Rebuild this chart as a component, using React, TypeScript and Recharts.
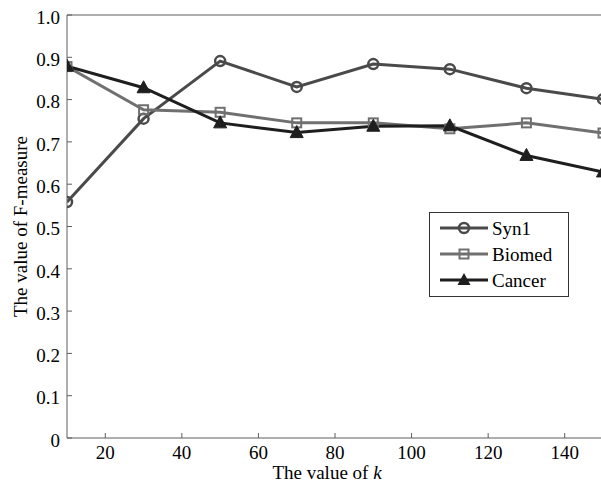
import React from "react";
import { LineChart, Line, XAxis, YAxis, Legend } from "recharts";

const kValues = [10, 30, 50, 70, 90, 110, 130, 150];
const syn1 = [0.558, 0.755, 0.891, 0.83, 0.884, 0.872, 0.827, 0.801];
const biomed = [0.878, 0.776, 0.77, 0.745, 0.745, 0.731, 0.745, 0.721];
const cancer = [0.879, 0.828, 0.745, 0.722, 0.737, 0.738, 0.668, 0.629];
const seriesNames = ["Syn1", "Biomed", "Cancer"];

const xTicks = [20, 40, 60, 80, 100, 120, 140];
const yTicks = [0, 0.1, 0.2, 0.3, 0.4, 0.5, 0.6, 0.7, 0.8, 0.9, 1.0];

const rows = kValues.map((k, i) => ({
  k,
  Syn1: syn1[i],
  Biomed: biomed[i],
  Cancer: cancer[i],
}));

const FONT = "'Liberation Serif', 'DejaVu Serif', 'Times New Roman', serif";
const AXIS = "#5e5e5e";
const C_SYN = "#4a4a4a";
const C_BIO = "#707070";
const C_CAN = "#1e1e1e";
const txt = { fontSize: 19, fontFamily: FONT, fill: "#000" };

const circleDot = (p: any) => (
  <circle key={`c${p.index}`} cx={p.cx} cy={p.cy} r={5} fill="none" stroke={C_SYN} strokeWidth={2.5} />
);
const squareDot = (p: any) => (
  <rect key={`s${p.index}`} x={p.cx - 4.5} y={p.cy - 4.5} width={9} height={9} fill="none" stroke={C_BIO} strokeWidth={2} />
);
const triDot = (p: any) => (
  <path key={`t${p.index}`} d={`M${p.cx},${p.cy - 7} L${p.cx + 6.5},${p.cy + 5} L${p.cx - 6.5},${p.cy + 5} Z`} fill={C_CAN} stroke={C_CAN} strokeWidth={1} />
);

const markerFor = (name: string, x: number, y: number) => {
  if (name === "Syn1") return <circle cx={x} cy={y} r={5} fill="none" stroke={C_SYN} strokeWidth={2.5} />;
  if (name === "Biomed") return <rect x={x - 4.5} y={y - 4.5} width={9} height={9} fill="none" stroke={C_BIO} strokeWidth={2} />;
  return <path d={`M${x},${y - 7} L${x + 6.5},${y + 5} L${x - 6.5},${y + 5} Z`} fill={C_CAN} />;
};

const LegendBox = ({ payload }: any) => {
  const items = [...(payload || [])].sort(
    (a: any, b: any) => seriesNames.indexOf(a.value) - seriesNames.indexOf(b.value)
  );
  return (
    <svg width={140} height={85} style={{ display: "block" }}>
      <rect x={0.5} y={0.5} width={139} height={84} fill="#fff" stroke="#333" strokeWidth={1} />
      {items.map((e: any, i: number) => {
        const y = 16 + i * 26;
        return (
          <g key={e.value}>
            <line x1={11} x2={59} y1={y} y2={y} stroke={e.color} strokeWidth={3} />
            {markerFor(e.value, 35, y)}
            <text x={63} y={y + 6.5} fontFamily={FONT} fontSize={19} fill="#000">
              {e.value}
            </text>
          </g>
        );
      })}
    </svg>
  );
};

const XLabel = ({ viewBox }: any) => (
  <text x={viewBox.x + viewBox.width / 2 - 8} y={viewBox.y + 41} textAnchor="middle" fontFamily={FONT} fontSize={19} fill="#000">
    The value of <tspan fontStyle="italic">k</tspan>
  </text>
);

const YLabel = ({ viewBox }: any) => {
  const cx = viewBox.x + 20;
  const cy = viewBox.y + viewBox.height / 2;
  return (
    <text x={cx} y={cy} textAnchor="middle" dominantBaseline="central" transform={`rotate(-90 ${cx} ${cy})`} fontFamily={FONT} fontSize={19} fill="#000">
      The value of F-measure
    </text>
  );
};

const yFmt = (v: number) => (v === 0 ? "0" : v.toFixed(1));

export default function App() {
  return (
    <div style={{ position: "fixed", left: 0, top: 0, width: 620, height: 484, background: "#fff", fontFamily: FONT }}>
      <LineChart width={620} height={484} data={rows} margin={{ top: 14, right: 16, left: 0, bottom: 0 }} style={{ fontFamily: FONT }}>
        <XAxis
          dataKey="k"
          type="number"
          domain={[10, 150]}
          ticks={xTicks}
          allowDataOverflow
          height={46}
          stroke={AXIS}
          tickSize={-5}
          tickMargin={12.5}
          tick={txt}
          label={<XLabel />}
        />
        <XAxis
          xAxisId="top"
          orientation="top"
          dataKey="k"
          type="number"
          domain={[10, 150]}
          ticks={xTicks}
          allowDataOverflow
          height={1}
          stroke={AXIS}
          tickSize={-5}
          tick={false}
        />
        <YAxis
          type="number"
          domain={[0, 1]}
          ticks={yTicks}
          width={67}
          stroke={AXIS}
          tickSize={-5}
          tickMargin={12}
          tickFormatter={yFmt}
          tick={{ ...txt, dy: 2 }}
          label={<YLabel />}
        />
        <YAxis
          yAxisId="right"
          orientation="right"
          type="number"
          domain={[0, 1]}
          ticks={yTicks}
          width={1}
          stroke={AXIS}
          tickSize={-5}
          tick={false}
        />
        <Legend
          layout="vertical"
          align="center"
          verticalAlign="middle"
          content={<LegendBox />}
          wrapperStyle={{ position: "absolute", left: 429, top: 212, width: 140, height: 85 }}
        />
        <Line dataKey="Syn1" stroke={C_SYN} strokeWidth={3} dot={circleDot} isAnimationActive={false} />
        <Line dataKey="Biomed" stroke={C_BIO} strokeWidth={3} dot={squareDot} isAnimationActive={false} />
        <Line dataKey="Cancer" stroke={C_CAN} strokeWidth={3} dot={triDot} isAnimationActive={false} />
      </LineChart>
    </div>
  );
}
